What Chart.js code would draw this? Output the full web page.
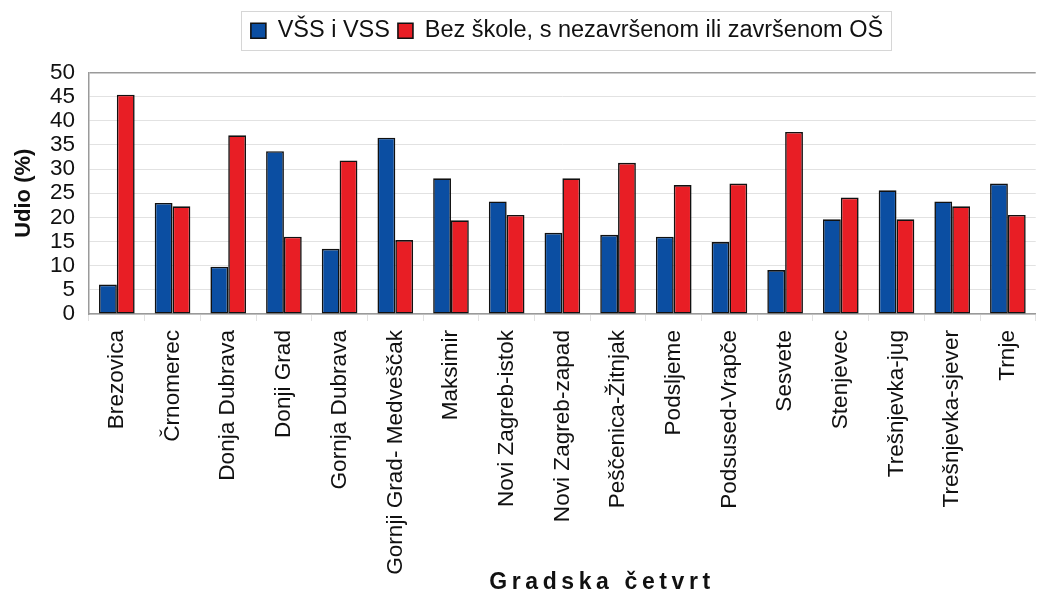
<!DOCTYPE html>
<html><head><meta charset="utf-8">
<script src="https://cdn.jsdelivr.net/npm/chart.js@4/dist/chart.umd.min.js"></script>
<style>html,body{margin:0;padding:0;background:#fff}#wrap{width:1044px;height:598px;position:relative}</style>
</head><body><div id="wrap"><canvas id="c"></canvas></div>
<script>
const categories = ['Brezovica','Črnomerec','Donja Dubrava','Donji Grad','Gornja Dubrava','Gornji Grad- Medveščak','Maksimir','Novi Zagreb-istok','Novi Zagreb-zapad','Peščenica-Žitnjak','Podsljeme','Podsused-Vrapče','Sesvete','Stenjevec','Trešnjevka-jug','Trešnjevka-sjever','Trnje'];
const seriesNames = ['VŠS i VSS','Bez škole, s nezavršenom ili završenom OŠ'];
const vssValues = [6.1,23.0,9.8,33.7,13.5,36.5,28.1,23.3,16.8,16.4,16.0,14.9,9.1,19.6,25.6,23.3,27.0];
const osValues  = [45.4,22.3,37.0,16.0,31.8,15.3,19.4,20.5,28.1,31.3,26.7,27.0,37.7,24.1,19.6,22.3,20.5];
const yTicks = [0,5,10,15,20,25,30,35,40,45,50];
const yTitle = 'Udio (%)';
const xTitle = 'Gradska četvrt';

const FONT = '"Liberation Sans", Arial, sans-serif';

// place legend like the reference (centred at x≈567, text centre y≈29)
const legendPlace = {
  id: 'legendPlace',
  afterLayout(chart) {
    const lg = chart.legend;
    if (!lg) return;
    const dx = 567 - (lg.left + lg.right) / 2;
    lg.left += dx; lg.right += dx;
    const h = lg.bottom - lg.top;
    lg.top = 11; lg.bottom = lg.top + h;
  }
};

const legendBorder = {
  id: 'legendBorder',
  afterDraw(chart) {
    const lg = chart.legend;
    if (!lg || !lg.legendHitBoxes || !lg.legendHitBoxes.length) return;
    const hb = lg.legendHitBoxes;
    const l = Math.min(...hb.map(h => h.left)) - 10;
    const r = Math.max(...hb.map(h => h.left + h.width)) + 8;
    const cy = hb[0].top + hb[0].height / 2;
    const ctx = chart.ctx;
    ctx.save();
    ctx.strokeStyle = '#d6d6d6';
    ctx.lineWidth = 1;
    ctx.strokeRect(Math.round(l) + 0.5, Math.round(cy - 20) + 0.5, Math.round(r - l), 39);
    ctx.restore();
  }
};

const xTitlePlugin = {
  id: 'xTitlePlugin',
  afterDraw(chart) {
    const ctx = chart.ctx;
    ctx.save();
    ctx.font = 'bold 23px ' + FONT;
    ctx.fillStyle = '#111';
    ctx.textAlign = 'center';
    ctx.textBaseline = 'middle';
    try { ctx.letterSpacing = '4.6px'; } catch (e) {}
    ctx.fillText(xTitle, 602, 583);
    ctx.restore();
  }
};

new Chart(document.getElementById('c'), {
  type: 'bar',
  data: {
    labels: categories,
    datasets: [
      { label: seriesNames[0], data: vssValues, backgroundColor: '#0b4ea2', borderColor: '#111', borderWidth: 1.6, borderSkipped: false },
      { label: seriesNames[1], data: osValues, backgroundColor: '#e81e25', borderColor: '#111', borderWidth: 1.6, borderSkipped: false }
    ]
  },
  options: {
    responsive: true,
    maintainAspectRatio: false,
    animation: false,
    devicePixelRatio: 1,
    layout: { padding: { top: 31, right: 0, left: 0, bottom: 0 } },
    datasets: { bar: { barPercentage: 1.0, categoryPercentage: 0.64 } },
    plugins: {
      legend: {
        position: 'top',
        labels: {
          font: { family: FONT, size: 23.5 },
          color: '#111',
          boxWidth: 15,
          boxHeight: 15,
          padding: 8
        }
      },
      tooltip: { enabled: false }
    },
    scales: {
      x: {
        offset: true,
        grid: { display: true, drawOnChartArea: false, drawTicks: true, tickLength: 7, color: '#e2e2e2', offset: true },
        border: { display: true, color: '#9a9a9a', width: 1.5 },
        ticks: {
          autoSkip: false, minRotation: 90, maxRotation: 90, padding: 9,
          font: { family: FONT, size: 22.6 }, color: '#111'
        },
        afterFit(scale) { scale.height = 284; }
      },
      y: {
        min: 0, max: 50,
        grid: {
          drawTicks: false,
          color: ctx => (ctx.tick && ctx.tick.value === 50) ? '#9a9a9a' : '#e2e2e2',
          lineWidth: ctx => (ctx.tick && ctx.tick.value === 50) ? 1.5 : 1
        },
        border: { display: true, color: '#9a9a9a', width: 1.5 },
        ticks: {
          stepSize: 5, autoSkip: false, padding: 14,
          font: { family: FONT, size: 22.5 }, color: '#111',
          callback: (v) => yTicks.includes(v) ? String(v) : ''
        },
        title: { display: true, text: yTitle, font: { family: FONT, size: 22, weight: 'bold' }, color: '#111', padding: { top: 11, bottom: 4 } },
        afterFit(scale) { scale.width = 89; }
      }
    }
  },
  plugins: [legendPlace, legendBorder, xTitlePlugin]
});
</script>
</body></html>
